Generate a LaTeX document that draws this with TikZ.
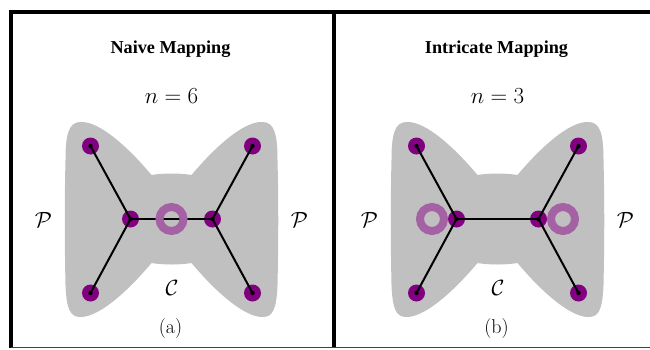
\RequirePackage{fix-cm}
\documentclass[tikz,border=0pt]{standalone}
\usepackage{fontspec}
\newfontfamily\titlefont{Liberation Serif}
\definecolor{blobgray}{RGB}{192,192,192}
\definecolor{dotpurple}{RGB}{128,0,128}
\definecolor{ringpurple}{RGB}{164,98,164}
\tikzset{
  blob/.style={fill=blobgray, draw=none},
  leafdot/.style={circle, fill=dotpurple, draw=none, minimum size=17pt, inner sep=0pt},
  centerdot/.style={circle, fill=black, draw=none, minimum size=4.4pt, inner sep=0pt},
  edgeline/.style={draw=black, line width=2pt},
  ringmark/.style={draw=ringpurple, line width=8pt},
  frameline/.style={draw=black, line width=3.6pt},
  thinframe/.style={draw=black!75, line width=1pt},
  titletext/.style={font=\titlefont\bfseries\fontsize{18.2}{20}\selectfont, inner sep=0pt, anchor=base},
  mathtext/.style={font=\fontsize{23}{26}\selectfont, inner sep=0pt},
  labeltext/.style={font=\fontsize{22}{25}\selectfont, inner sep=0pt, anchor=base},
  captext/.style={font=\fontsize{20}{24}\selectfont, inner sep=0pt, anchor=base},
}
\newcommand{\drawpanel}[6]{%
  % #1 suffix, #2 center x, #3 title, #4 n-value, #5 caption, #6 ring positions
  \begin{scope}[xshift=#2pt]
    \path[blob] (-91,122) .. controls (-71,121) and (-41,150) .. (-20,175)
      .. controls (-8,173) and (8,173) .. (20,175)
      .. controls (41,150) and (71,121) .. (91,122)
      .. controls (103,122) and (106,135) .. (106,160)
      .. controls (107,200) and (107,240) .. (106,285)
      .. controls (105,310) and (101,317) .. (91,317)
      .. controls (71,317) and (41,288) .. (20,263)
      .. controls (8,265) and (-8,265) .. (-20,263)
      .. controls (-41,288) and (-71,317) .. (-91,317)
      .. controls (-101,317) and (-105,310) .. (-106,285)
      .. controls (-107,240) and (-107,200) .. (-106,160)
      .. controls (-106,135) and (-103,122) .. (-91,122) -- cycle;
    \node[titletext] (title#1) at (-1,53.5) {#3};
    \node[mathtext] (n#1) at (0,96.5) {$n=#4$};
    \node[labeltext] (pl#1) at (-128,227) {$\mathcal{P}$};
    \node[labeltext] (pr#1) at (128,227) {$\mathcal{P}$};
    \node[labeltext] (c#1) at (0.5,295) {$\mathcal{C}$};
    \node[captext] (cap#1) at (-1,333.5) {(#5)};
    \node[leafdot] (tl#1) at (-81,146) {};
    \node[leafdot] (tr#1) at (81,146) {};
    \node[leafdot] (bl#1) at (-81,293) {};
    \node[leafdot] (br#1) at (81,293) {};
    \node[leafdot] (il#1) at (-41,219) {};
    \node[leafdot] (ir#1) at (41,219) {};
    \draw[edgeline] (tl#1.center) -- (il#1.center) -- (bl#1.center);
    \draw[edgeline] (tr#1.center) -- (ir#1.center) -- (br#1.center);
    \draw[edgeline] (il#1.center) -- (ir#1.center);
    \foreach \q in {tl,tr,bl,br,il,ir} {\node[centerdot] at (\q#1.center) {};}
    \foreach \rx in {#6} {\draw[ringmark] (\rx,219) circle[radius=12];}
  \end{scope}}
\begin{document}
\begin{tikzpicture}[x=1pt,y=-1pt]
  \useasboundingbox (0,0) rectangle (650,349);
  \fill[white] (0,0) rectangle (650,349);
  \drawpanel{a}{171.5}{Naive Mapping}{6}{a}{0}
  \drawpanel{b}{497.5}{Intricate Mapping}{3}{b}{-65.5,65.5}
  \draw[frameline] (9.2,12) -- (650,12);
  \draw[frameline] (11,10.2) -- (11,347.5);
  \draw[frameline] (334,12) -- (334,347.5);
  \draw[thinframe] (11,347.5) -- (650,347.5);
\end{tikzpicture}
\end{document}
